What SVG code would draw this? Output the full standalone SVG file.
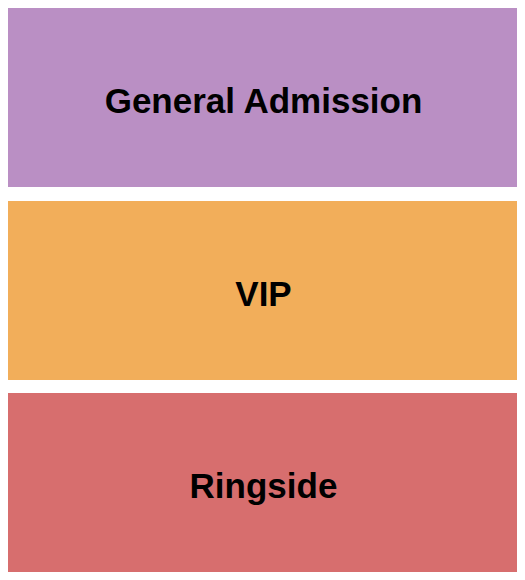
<svg xmlns="http://www.w3.org/2000/svg" width="525" height="580" viewBox="0 0 525 580">
<style>
.lbl{font-family:"Liberation Sans",Arial,sans-serif;font-weight:bold;font-size:35px;fill:#000;text-anchor:middle}
</style>
<rect width="525" height="580" fill="#fff"/>
<g id="general-admission">
<rect x="8" y="8" width="509" height="179" fill="#BA8FC4"/>
<text class="lbl" x="263.5" y="113">General Admission</text>
</g>
<g id="vip">
<rect x="8" y="201" width="509" height="179" fill="#F2AE5A"/>
<text class="lbl" x="263.5" y="306">VIP</text>
</g>
<g id="ringside">
<rect x="8" y="393" width="509" height="179" fill="#D76E6E"/>
<text class="lbl" x="263.5" y="498">Ringside</text>
</g>
<g id="connectors"/>
</svg>
